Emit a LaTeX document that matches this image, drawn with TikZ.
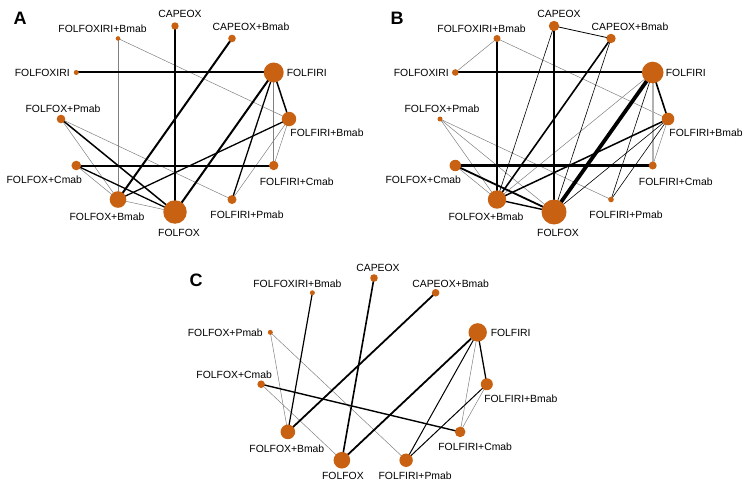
\documentclass[tikz,border=0pt]{standalone}
\usepackage{fontspec}
\setmainfont{Liberation Sans}
\usetikzlibrary{calc}
\pgfdeclarelayer{bg}
\pgfsetlayers{bg,main}
\definecolor{dotbrown}{RGB}{200,98,18}
\tikzset{
  dot/.style={circle, fill=dotbrown, draw=none, inner sep=0pt, minimum size=#1},
  lbl/.style={font=\fontsize{10.4}{12}\selectfont, inner sep=0pt},
  tag/.style={font=\fontsize{18}{20}\selectfont\bfseries, inner sep=0pt},
  greylink/.style={draw=black!50, line width=0.5pt},
}

\begin{document}
\begin{tikzpicture}[x=1pt, y=-1pt]
\useasboundingbox (0,0) rectangle (751,489);

% panel A
\begin{scope}
\node[tag] (A-tag) at (20,18) {A};
\foreach \nm/\ang/\d/\dx/\dy/\txt in {cap/90/7.4/5/-12/CAPEOX, capb/60/7.6/19/-12/CAPEOX+Bmab,
    fir/30/20/33/0/FOLFIRI, firb/0/14.4/38/14/FOLFIRI+Bmab, firc/-30/9.4/23/16/FOLFIRI+Cmab,
    firp/-60/9/15/15/FOLFIRI+Pmab, fox/-90/23.5/4/21/FOLFOX, foxb/-120/16.6/-11/17/FOLFOX+Bmab,
    foxc/-150/9.6/-32/14/FOLFOX+Cmab, foxp/180/8.6/2/-10/FOLFOX+Pmab, foxiri/150/5/-34/0/FOLFOXIRI,
    foxirib/120/4.6/-15.5/-10/FOLFOXIRI+Bmab}{
  \node[dot=\d pt] (A-\nm) at ({175+114*cos(\ang)},{119-93*sin(\ang)}) {};
  \node[lbl] (A-\nm-t) at ($(A-\nm)+(\dx,\dy)$) {\txt};
}
\begin{pgfonlayer}{bg}
\foreach \a/\b in {foxirib/foxb, foxirib/firb, fir/firc, firb/firp, firb/firc, foxp/foxb, foxp/firp, foxc/foxb, foxb/fox}
  \draw[greylink] (A-\a.center) -- (A-\b.center);
\foreach \a/\b/\w in {cap/fox/2.2, capb/foxb/2.0, foxiri/fir/2.0, fir/fox/2.0, fir/firb/1.5, fir/firp/1.3,
    firb/foxb/1.3, foxp/fox/1.5, foxc/firc/2.0, foxc/fox/1.3}
  \draw[line width=\w pt] (A-\a.center) -- (A-\b.center);
\end{pgfonlayer}
\end{scope}

% panel B
\begin{scope}[shift={(379,0)}]
\node[tag] (B-tag) at (18,18) {B};
\foreach \nm/\ang/\d/\dx/\dy/\txt in {cap/90/10.4/5/-12/CAPEOX, capb/60/9.4/19/-12/CAPEOX+Bmab,
    fir/30/21.6/33/0/FOLFIRI, firb/0/12.6/38/14/FOLFIRI+Bmab, firc/-30/8/23/16/FOLFIRI+Cmab,
    firp/-60/5.6/15/15/FOLFIRI+Pmab, fox/-90/25/4/21/FOLFOX, foxb/-120/18.4/-11/17/FOLFOX+Bmab,
    foxc/-150/11.4/-32/14/FOLFOX+Cmab, foxp/180/5/2/-10/FOLFOX+Pmab, foxiri/150/6.6/-34/0/FOLFOXIRI,
    foxirib/120/7/-15.5/-10/FOLFOXIRI+Bmab}{
  \node[dot=\d pt] (B-\nm) at ({175+114*cos(\ang)},{119-93*sin(\ang)}) {};
  \node[lbl] (B-\nm-t) at ($(B-\nm)+(\dx,\dy)$) {\txt};
}
\begin{pgfonlayer}{bg}
\foreach \a/\b in {foxirib/foxiri, foxirib/firb, fir/foxb, firb/firc, foxc/foxb, foxp/foxb, foxp/fox, foxp/firp}
  \draw[greylink] (B-\a.center) -- (B-\b.center);
\draw[draw=black!30, line width=2pt] (B-fir.center) -- (B-firc.center);
\foreach \a/\b/\w in {cap/capb/0.8, cap/fox/1.8, cap/foxb/0.6, capb/foxb/1.6, capb/fox/0.6, foxirib/foxb/1.6,
    foxiri/fir/2.0, fir/fox/3.8, fir/firb/1.6, firb/foxb/1.5, firb/fox/0.6, firb/firp/0.6, fir/firp/0.6,
    foxc/firc/2.1, foxc/fox/1.8, foxb/fox/1.4}
  \draw[line width=\w pt] (B-\a.center) -- (B-\b.center);
\end{pgfonlayer}
\end{scope}

% panel C
\begin{scope}
\node[tag] (C-tag) at (196,280) {C};
\foreach \nm/\k/\d/\dx/\dy/\txt in {cap/0/7.6/4/-10/CAPEOX, capb/1/7.6/15/-9/CAPEOX+Bmab,
    fir/2/18.4/33/1/FOLFIRI, firb/3/12/34/15/FOLFIRI+Bmab, firc/4/10.6/15/15/FOLFIRI+Cmab,
    firp/5/13.4/9/16/FOLFIRI+Pmab, fox/6/16.6/1/16/FOLFOX, foxb/7/14.6/-1/17/FOLFOX+Bmab,
    foxc/8/7.6/-27/-9/FOLFOX+Cmab, foxp/9/5/-45/0/FOLFOX+Pmab, foxirib/10/5/-15/-9/FOLFOXIRI+Bmab}{
  \node[dot=\d pt] (C-\nm) at ({374+114*cos(90-\k*360/11)},{371-93*sin(90-\k*360/11)}) {};
  \node[lbl] (C-\nm-t) at ($(C-\nm)+(\dx,\dy)$) {\txt};
}
\begin{pgfonlayer}{bg}
\foreach \a/\b in {foxp/foxb, foxp/firp, foxc/fox, fir/firc, firb/firc}
  \draw[greylink] (C-\a.center) -- (C-\b.center);
\foreach \a/\b/\w in {cap/fox/1.6, capb/foxb/1.8, foxirib/foxb/1.2, foxc/firc/1.4, fir/fox/1.8,
    fir/firb/1.3, fir/firp/1.0, firb/firp/1.0}
  \draw[line width=\w pt] (C-\a.center) -- (C-\b.center);
\end{pgfonlayer}
\end{scope}

\end{tikzpicture}
\end{document}
